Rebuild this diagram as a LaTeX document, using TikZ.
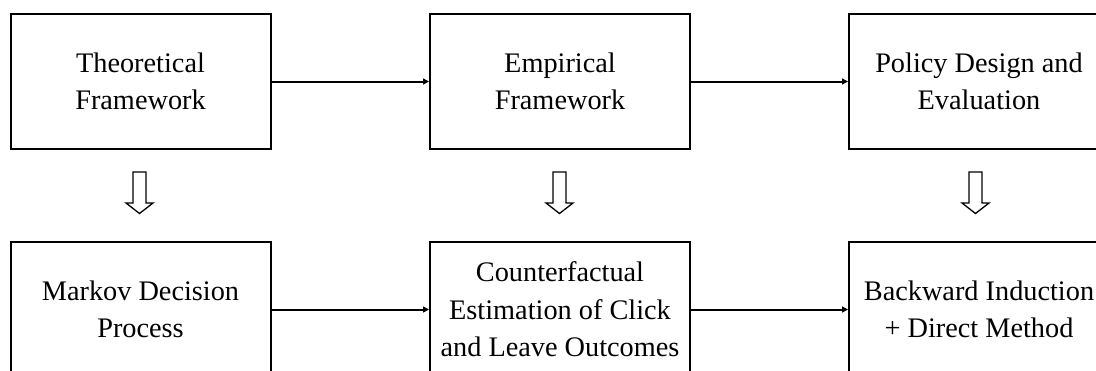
\documentclass[tikz,border=0pt]{standalone}
\usepackage{fontspec}
\setmainfont{Liberation Serif}
\usetikzlibrary{arrows.meta}
\begin{document}
\begin{tikzpicture}[x=1pt,y=1pt,
  stagebox/.style={draw=black, line width=2pt, minimum width=260pt, minimum height=135pt,
    align=center, inner sep=0pt, font=\fontsize{28.3}{37.5}\selectfont},
  flow/.style={line width=2pt, -{Triangle[length=6pt,width=6pt]}},
  hollowdown/.style={draw=black, line width=1.3pt, fill=white}]
  \useasboundingbox (0,0) rectangle (1096,-370);
  \clip (0,0) rectangle (1096,-370);

  % top row
  \node[stagebox] (theory) at (140.5,-81.5) {Theoretical\\Framework};
  \node[stagebox] (empir)  at (560,-81.5)   {Empirical\\Framework};
  \node[stagebox] (policy) at (979,-81.5)   {Policy Design and\\Evaluation};

  % bottom row
  \node[stagebox] (mdp)    at (140.5,-309.5) {Markov Decision\\Process};
  \node[stagebox] (cfe)    at (560,-309.5)   {Counterfactual\\Estimation of Click\\and Leave Outcomes};
  \node[stagebox] (bim)    at (979,-309.5)   {Backward Induction\\+ Direct Method};

  % horizontal connectors
  \draw[flow] (theory.east) -- (empir.west);
  \draw[flow] (empir.east) -- (policy.west);
  \draw[flow] (mdp.east) -- (cfe.west);
  \draw[flow] (cfe.east) -- (bim.west);

  % hollow down arrows between rows
  \foreach \cx in {139.5, 559.5, 975.5} {
    \draw[hollowdown] (\cx-6.5,-172) -- (\cx+6.5,-172) -- (\cx+6.5,-203) -- (\cx+13.5,-203)
      -- (\cx,-213.5) -- (\cx-13.5,-203) -- (\cx-6.5,-203) -- cycle;
  }
\end{tikzpicture}
\end{document}
